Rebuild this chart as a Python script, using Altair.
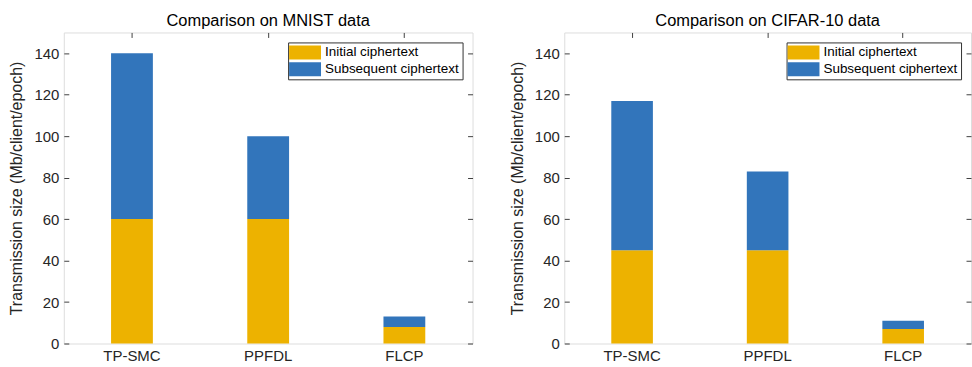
import altair as alt
import pandas as pd

methods = ["TP-SMC", "PPFDL", "FLCP"]
types = ["Initial ciphertext", "Subsequent ciphertext"]
colors = ["#EDB200", "#3275BB"]

mnist_initial = [60, 60, 8]
mnist_subsequent = [80, 40, 5]
cifar_initial = [45, 45, 7]
cifar_subsequent = [72, 38, 4]

y_ticks = [0, 20, 40, 60, 80, 100, 120, 140]

FONT = "Liberation Sans"
TXT = "#262626"


def make_df(initial, subsequent):
    rows = []
    for m, a, b in zip(methods, initial, subsequent):
        rows.append({"method": m, "type": types[0], "value": a, "ord": 0})
        rows.append({"method": m, "type": types[1], "value": b, "ord": 1})
    return pd.DataFrame(rows)


def panel(df, title, width):
    xs = alt.Scale(domain=methods, paddingInner=0.693, paddingOuter=0.347)
    ys = alt.Scale(domain=[0, 150], nice=False)
    color = alt.Color(
        "type:N",
        scale=alt.Scale(domain=types, range=colors),
        legend=alt.Legend(
            title=None, orient="top-right", offset=10,
            symbolType="M-2.2857,-1H2.2857V1H-2.2857Z", symbolSize=196,
            symbolStrokeWidth=0, symbolOpacity=1, symbolOffset=7,
            labelFontSize=13.5, labelFont=FONT, labelColor="#000",
            labelOffset=13, fillColor="white", strokeColor="#333",
            padding=3, rowPadding=3,
        ),
    )
    bars = alt.Chart(df).mark_bar(opacity=1).encode(
        x=alt.X("method:N", scale=xs, sort=methods,
                axis=alt.Axis(orient="bottom", title=None, labelAngle=0, ticks=False,
                              domain=False, grid=False, labelFontSize=15,
                              labelFont=FONT, labelColor=TXT, labelPadding=5)),
        y=alt.Y("value:Q", stack="zero", scale=ys,
                axis=alt.Axis(orient="left", title="Transmission size (Mb/client/epoch)",
                              values=y_ticks, ticks=False, domain=False, grid=False,
                              labelFontSize=15, labelFont=FONT, labelColor=TXT,
                              labelPadding=5, titleFontSize=16, titleFont=FONT,
                              titleFontWeight="normal", titleColor=TXT, titlePadding=9)),
        color=color,
        order=alt.Order("ord:Q"),
    )
    ghost_tr = alt.Chart(df).mark_bar(opacity=0).encode(
        x=alt.X("method:N", scale=xs, sort=methods,
                axis=alt.Axis(orient="top", title=None, labels=False, domain=False,
                              grid=False, tickSize=5, offset=-5, tickColor="#404040")),
        y=alt.Y("value:Q", stack="zero", scale=ys,
                axis=alt.Axis(orient="right", title=None, labels=False, domain=False,
                              grid=False, values=y_ticks, tickSize=5, offset=-5,
                              tickColor="#404040")),
    )
    ghost_l = alt.Chart(df).mark_bar(opacity=0).encode(
        x=alt.X("method:N", scale=xs, sort=methods, axis=None),
        y=alt.Y("value:Q", stack="zero", scale=ys,
                axis=alt.Axis(orient="left", title=None, labels=False, domain=False,
                              grid=False, values=y_ticks, tickSize=5, offset=-5,
                              tickColor="#404040")),
    )
    return alt.layer(bars, ghost_tr, ghost_l).resolve_axis(
        x="independent", y="independent"
    ).properties(
        width=width, height=312,
        title=alt.TitleParams(title, fontSize=16.5, font=FONT, fontWeight="normal",
                              color="#000", offset=2, anchor="middle"),
    )


left = panel(make_df(mnist_initial, mnist_subsequent), "Comparison on MNIST data", 410)
right = panel(make_df(cifar_initial, cifar_subsequent), "Comparison on CIFAR-10 data", 408)

chart = alt.hconcat(left, right, spacing=35).resolve_scale(color="independent").resolve_legend(
    color="independent"
).properties(
    padding={"left": 8, "top": 12, "right": 0, "bottom": 0}
).configure_view(
    stroke="#404040", strokeWidth=1
).configure(background="white")

chart.save("out.html", embed_options={"renderer": "svg", "actions": False})
